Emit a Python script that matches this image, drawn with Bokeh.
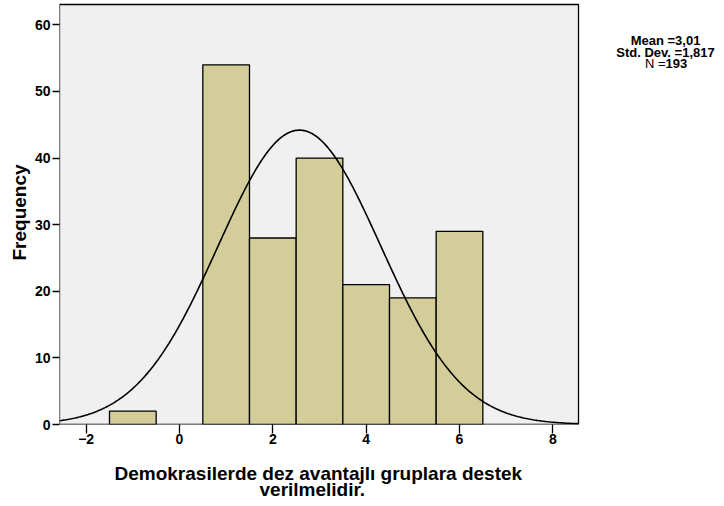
import numpy as np
from bokeh.plotting import figure
from bokeh.models import Range1d, FixedTicker, ColumnDataSource, Title
from bokeh.core.properties import value
from bokeh.embed import file_html
from bokeh.resources import INLINE

# ---- data ----
values = [-1, 1, 2, 3, 4, 5, 6]
counts = [2, 54, 28, 40, 21, 19, 29]
x_ticks = [-2, 0, 2, 4, 6, 8]
y_ticks = [0, 10, 20, 30, 40, 50, 60]
stat_mean = "3,01"
stat_sd = "1,817"
stat_n = "193"
curve_mean = 2.57
curve_sd = 1.742
bin_width = 1.0
x_label_lines = ["Demokrasilerde dez avantajlı gruplara destek", "verilmelidir."]
y_label = "Frequency"

FONT = "Liberation Sans"
BAR = "#D3CE99"
PANEL = "#F0F0F0"

W, H = 716, 498
FRAME_L, BOX_R = 59, 578          # pixel edges of the gray box
PX_X, PX_Y = 46.67, 6.66          # pixels per data unit

# gray box in data units; the frame extends to the right to hold the statistics
box_x0, box_x1 = -2.571, 8.55
box_y1 = 63.06
x_end = box_x0 + (W - FRAME_L) / PX_X
y_end = 63.66

p = figure(width=W, height=H, output_backend="svg", toolbar_location=None,
           x_range=Range1d(box_x0, x_end), y_range=Range1d(0, y_end),
           min_border_left=FRAME_L, min_border_right=0, min_border_top=0,
           min_border_bottom=74)
p.background_fill_color = "white"
p.border_fill_color = "white"
p.outline_line_color = None
p.grid.visible = False

p.quad(left=[box_x0], right=[box_x1], bottom=[0], top=[box_y1],
       fill_color=PANEL, line_color="black", line_width=1.3)

src = ColumnDataSource(dict(
    left=[v - bin_width / 2 for v in values],
    right=[v + bin_width / 2 for v in values],
    top=counts,
    bottom=[0] * len(values),
))
p.quad(left="left", right="right", top="top", bottom="bottom", source=src,
       fill_color=BAR, line_color="black", line_width=1.3)

n_total = sum(counts)
xs = np.linspace(box_x0, box_x1, 400)
ys = n_total * bin_width / (curve_sd * np.sqrt(2 * np.pi)) * np.exp(-0.5 * ((xs - curve_mean) / curve_sd) ** 2)
p.line(xs, ys, line_color="black", line_width=1.6)

for ax in (p.xaxis, p.yaxis):
    ax.axis_line_color = None
    ax.major_tick_line_color = "black"
    ax.major_tick_line_width = 1.3
    ax.major_tick_in = 0
    ax.minor_tick_line_color = None
    ax.major_label_text_font = FONT
    ax.major_label_text_font_style = "bold"
    ax.major_label_text_font_size = "14px"
    ax.major_label_text_color = "black"
    ax.axis_label_text_font = FONT
    ax.axis_label_text_font_style = "bold"
    ax.axis_label_text_font_size = "19px"
    ax.axis_label_text_color = "black"

p.xaxis.ticker = FixedTicker(ticks=x_ticks)
p.yaxis.ticker = FixedTicker(ticks=y_ticks)
p.xaxis.major_tick_out = 9
p.yaxis.major_tick_out = 7
p.xaxis.major_label_standoff = 0
p.yaxis.major_label_standoff = 2
p.yaxis.axis_label = y_label
p.yaxis.axis_label_standoff = 2

# x-axis title: two lines, each centred under the gray box
line_px_widths = [409, 119]      # rendered widths of the two lines at 19px bold
box_center = (FRAME_L + BOX_R) / 2
standoffs = [28, -38]
valigns = ["bottom", "top"]
for txt, wpx, so, va in zip(x_label_lines, line_px_widths, standoffs, valigns):
    t = Title(text=txt, align="left", vertical_align=va,
              offset=box_center - wpx / 2 - FRAME_L,
              standoff=so, text_font=FONT, text_font_style="bold",
              text_font_size="19px", text_color="black")
    p.add_layout(t, "below")

# statistics text at the upper right
def dx(page_x):
    return box_x0 + (page_x - FRAME_L) / PX_X
def dy(page_y):
    return (424 - page_y) / PX_Y

cx = dx(665)
p.text(x=[cx, cx], y=[dy(40), dy(52)],
       text=["Mean =" + stat_mean, "Std. Dev. =" + stat_sd],
       text_align="center", text_baseline="alphabetic",
       text_font=value(FONT), text_font_style="bold", text_font_size="13px",
       text_color="black")
p.text(x=[cx], y=[dy(63)], text=["N ="], text_align="right",
       text_baseline="alphabetic", text_font=value(FONT),
       text_font_style="normal", text_font_size="13px", text_color="black")
p.text(x=[cx], y=[dy(63)], text=[stat_n], text_align="left",
       text_baseline="alphabetic", text_font=value(FONT),
       text_font_style="bold", text_font_size="13px", text_color="black")

open("out.html", "w").write(file_html(p, INLINE))
